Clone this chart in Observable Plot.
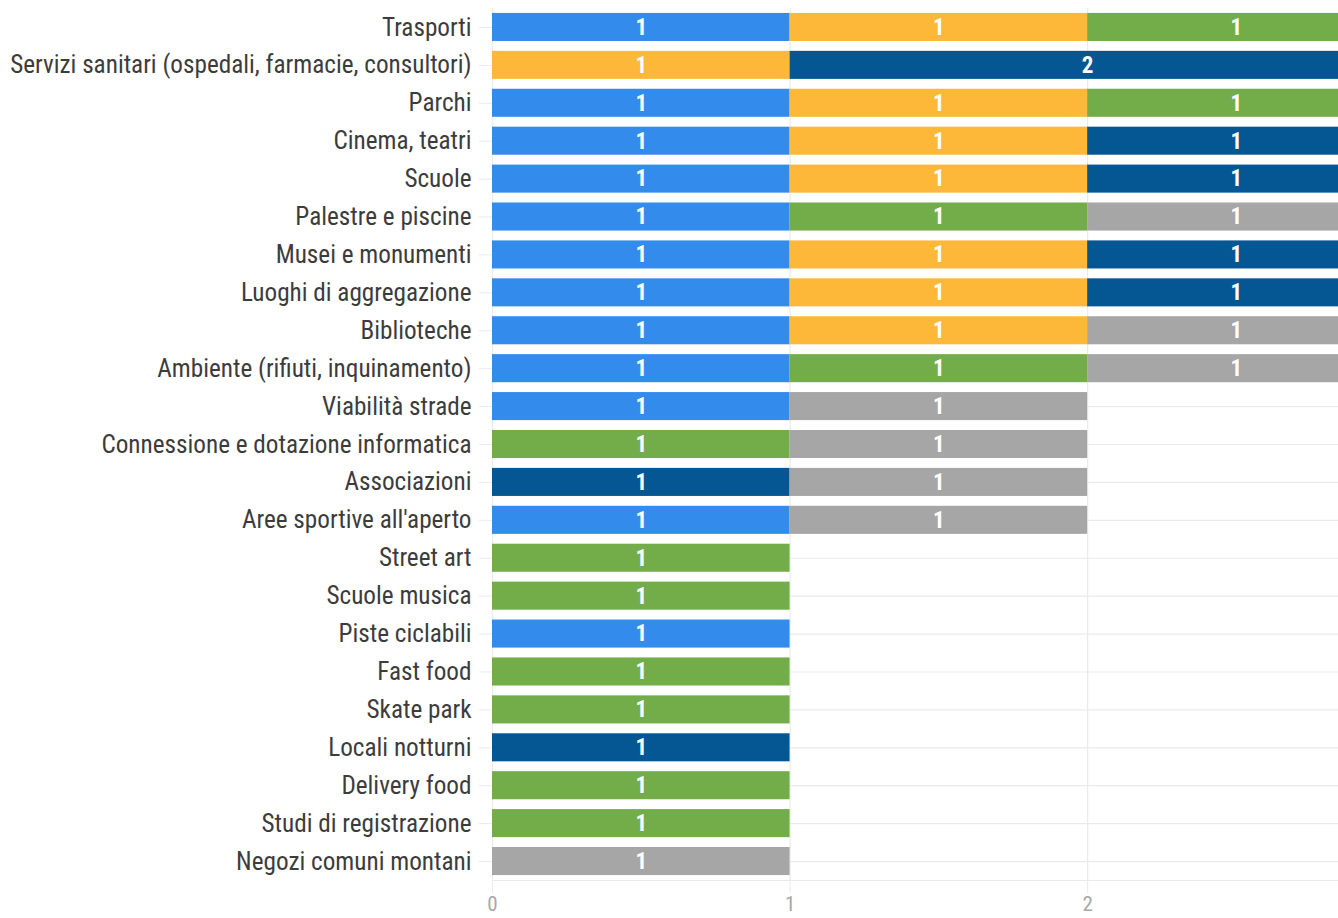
<!DOCTYPE html>
<html>
<head>
<meta charset="utf-8">
<script src="https://cdn.jsdelivr.net/npm/d3@7"></script>
<script src="https://cdn.jsdelivr.net/npm/@observablehq/plot@0.6"></script>
<style>
  html, body { margin: 0; padding: 0; background: #fff; }
  #chart svg { display: block; }
</style>
</head>
<body>
<div id="chart"></div>
<script>
const categories = [
  "Trasporti",
  "Servizi sanitari (ospedali, farmacie, consultori)",
  "Parchi",
  "Cinema, teatri",
  "Scuole",
  "Palestre e piscine",
  "Musei e monumenti",
  "Luoghi di aggregazione",
  "Biblioteche",
  "Ambiente (rifiuti, inquinamento)",
  "Viabilità strade",
  "Connessione e dotazione informatica",
  "Associazioni",
  "Aree sportive all'aperto",
  "Street art",
  "Scuole musica",
  "Piste ciclabili",
  "Fast food",
  "Skate park",
  "Locali notturni",
  "Delivery food",
  "Studi di registrazione",
  "Negozi comuni montani"
];
const seriesNames = ["Serie 1", "Serie 2", "Serie 3", "Serie 4", "Serie 5"];
const seriesColors = ["#338cec", "#fdb83a", "#73ad4a", "#045792", "#a6a6a6"];
const serie1 = [1,0,1,1,1,1,1,1,1,1,1,0,0,1,0,0,1,0,0,0,0,0,0];
const serie2 = [1,1,1,1,1,0,1,1,1,0,0,0,0,0,0,0,0,0,0,0,0,0,0];
const serie3 = [1,0,1,0,0,1,0,0,0,1,0,1,0,0,1,1,0,1,1,0,1,1,0];
const serie4 = [0,2,0,1,1,0,1,1,0,0,0,0,1,0,0,0,0,0,0,1,0,0,0];
const serie5 = [0,0,0,0,0,1,0,0,1,1,1,1,1,1,0,0,0,0,0,0,0,0,1];
const xTicks = [0, 1, 2];

const seriesValues = [serie1, serie2, serie3, serie4, serie5];
const data = [];
categories.forEach((c, i) => {
  seriesValues.forEach((vals, s) => {
    if (vals[i] > 0) data.push({category: c, series: seriesNames[s], value: vals[i]});
  });
});

const W = 1338, H = 918;
const fontFam = "'Roboto Condensed', 'Liberation Sans Narrow', 'DejaVu Sans Condensed', Roboto, sans-serif";

const chart = Plot.plot({
  width: W,
  height: H,
  marginLeft: 492,
  marginRight: 0,
  marginTop: 8,
  marginBottom: 38,
  style: {fontFamily: fontFam, background: "#fff"},
  x: {domain: [0, 2.843], ticks: xTicks},
  y: {domain: categories, paddingInner: 0.26, paddingOuter: 0.13, round: false},
  color: {domain: seriesNames, range: seriesColors},
  marks: [
    Plot.gridX(xTicks, {stroke: "#ebebeb", strokeOpacity: 1, strokeWidth: 1.2}),
    Plot.gridY({stroke: "#ebebeb", strokeOpacity: 1, strokeWidth: 1.2}),
    Plot.frame({anchor: "bottom", stroke: "#ebebeb", strokeWidth: 1.2}),
    Plot.barX(data, Plot.stackX({x: "value", y: "category", fill: "series", z: "series", order: seriesNames, clip: true})),
    Plot.text(data, Plot.stackX({x: "value", y: "category", z: "series", order: seriesNames, text: d => String(d.value), fill: "#fff", fontWeight: "bold", fontSize: 23})),
    Plot.axisY({tickSize: 13, tickPadding: 8, stroke: "#ebebeb", strokeOpacity: 1, fill: "#3c3c3c", fontSize: 25.2, label: null}),
    Plot.axisX(xTicks, {tickSize: 13, tickPadding: 3, stroke: "#ebebeb", strokeOpacity: 1, fill: "#a8a8a8", fontSize: 21, label: null, tickFormat: d => String(d)})
  ]
});
document.getElementById("chart").appendChild(chart);
</script>
</body>
</html>
